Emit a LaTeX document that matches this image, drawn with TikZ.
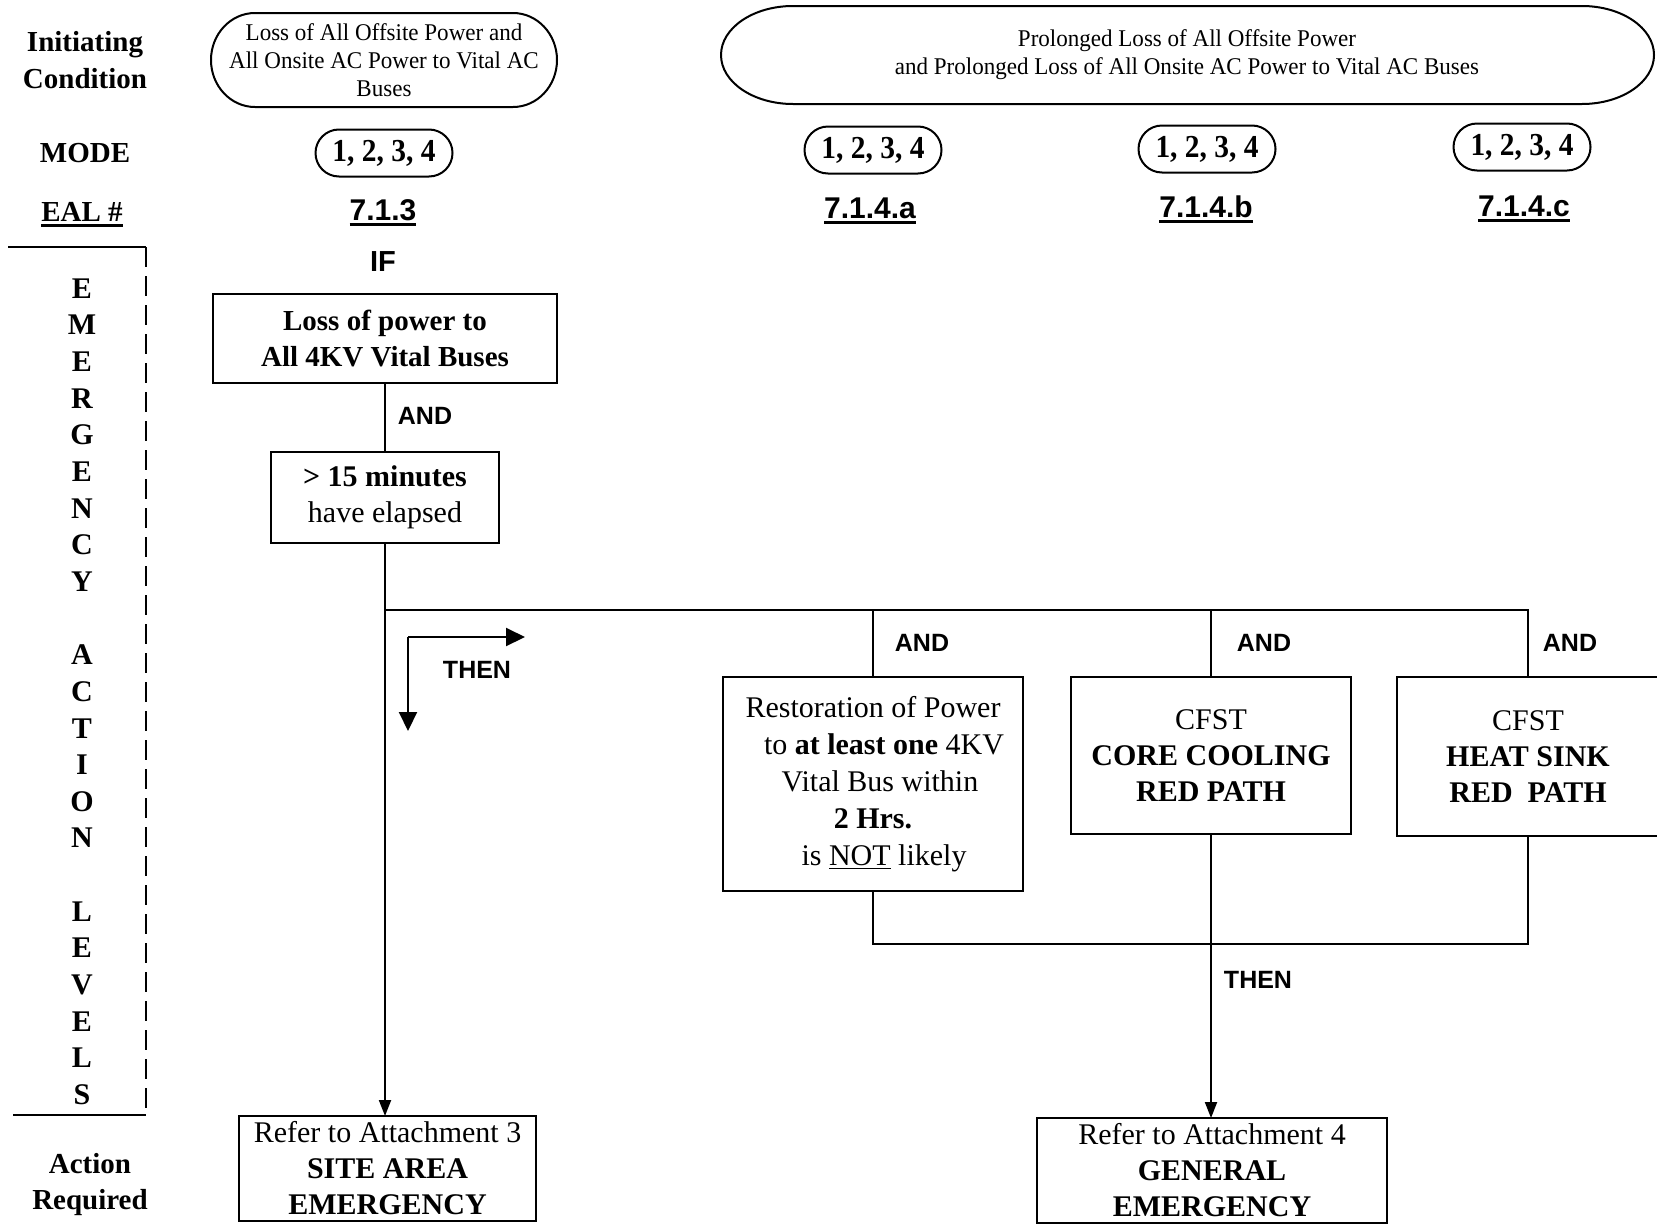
\documentclass[tikz,border=0pt]{standalone}
\usepackage{fontspec}
\setmainfont{Liberation Serif}
\setsansfont{Liberation Sans}
\newfontfamily\narrowserif[FakeStretch=0.96]{Liberation Serif}
\newfontfamily\modefont[FakeStretch=0.92]{Liberation Serif}
\usetikzlibrary{arrows.meta}

% heavy underline used for the EAL numbers
\newcommand\thickul[1]{\setbox0=\hbox{#1}\rlap{\copy0}\rule[-3pt]{\wd0}{1.3pt}}

\begin{document}
\begin{tikzpicture}[x=0.5pt, y=-0.5pt, line width=1pt,
  every node/.style={inner sep=0pt, outer sep=0pt},
  box/.style={draw, line width=1pt, align=center, font=\fontsize{15}{18}\selectfont},
  pill/.style={draw, line width=1pt, minimum width=68.5pt, minimum height=23.5pt,
    rounded corners=11.75pt, font=\modefont\bfseries\fontsize{16}{18}\selectfont},
  title/.style={align=center, font=\narrowserif\fontsize{12}{14}\selectfont},
  hdr/.style={align=center, font=\bfseries\fontsize{14.5}{18.2}\selectfont},
  eal/.style={anchor=base, font=\sffamily\bfseries\fontsize{15}{18}\selectfont},
  gate/.style={font=\sffamily\bfseries\fontsize{12.5}{15}\selectfont},
  letter/.style={font=\bfseries\fontsize{15}{18}\selectfont},
  tip/.style={-{Triangle[length=8pt,width=6pt]}},
  bigtip/.style={-{Triangle[length=9.5pt,width=9pt]}}]

\useasboundingbox (0,0) rectangle (1657,1231);
\fill[white] (0,0) rectangle (1657,1231);

% ---- row headings -------------------------------------------------
\node[hdr] (h-init) at (85,60) {Initiating\\Condition};
\node[hdr] (h-mode) at (85,153) {MODE};
\node[hdr, anchor=base] (h-eal) at (82,221) {\thickul{EAL \#}};
\node[hdr] (h-action) at (90,1184.5) {Action\\Required};

% ---- EMERGENCY ACTION LEVELS, written down the left margin ----------
\foreach \ch/\k in {E/0,M/1,E/2,R/3,G/4,E/5,N/6,C/7,Y/8,
                    A/10,C/11,T/12,I/13,O/14,N/15,
                    L/17,E/18,V/19,E/20,L/21,S/22}
  \node[letter] (lv-\k) at (82,{288.5+36.64*\k}) {\ch};
\draw (8,247) -- (146,247);
\draw[dash pattern=on 10pt off 4.5pt] (146,247) -- (146,1115);
\draw (13,1115) -- (146,1115);

% ---- initiating conditions ----------------------------------------
\node[title] (ic1) at (384,60)
  {Loss of All Offsite Power and\\All Onsite AC Power to Vital AC\\Buses};
\draw (255,13) -- (513,13)
  arc[start angle=90, end angle=-90, x radius=22pt, y radius=23.5pt]
  -- (255,107)
  arc[start angle=270, end angle=90, x radius=22pt, y radius=23.5pt] -- cycle;

\node[title] (ic2) at (1187,55)
  {Prolonged Loss of All Offsite Power\\and Prolonged Loss of All Onsite AC Power to Vital AC Buses};
\draw (793,6) -- (1582,6)
  arc[start angle=90, end angle=-90, x radius=36pt, y radius=24.5pt]
  -- (793,104)
  arc[start angle=270, end angle=90, x radius=36pt, y radius=24.5pt] -- cycle;

% ---- modes and EAL numbers -----------------------------------------
\node[pill] (m1) at (384,153) {1, 2, 3, 4};
\node[pill] (m2) at (873,150) {1, 2, 3, 4};
\node[pill] (m3) at (1207,149) {1, 2, 3, 4};
\node[pill] (m4) at (1522,147) {1, 2, 3, 4};

\node[eal] (e1) at (383,220) {\thickul{7.1.3}};
\node[eal] (e2) at (870,218) {\thickul{7.1.4.a}};
\node[eal] (e3) at (1206,217) {\thickul{7.1.4.b}};
\node[eal] (e4) at (1524,216) {\thickul{7.1.4.c}};

% ---- site area emergency branch -----------------------------------
\node[gate, font=\sffamily\bfseries\fontsize{14.5}{16}\selectfont] (if) at (383,262) {IF};
\node[box, minimum width=172pt, minimum height=44.5pt,
      font=\bfseries\fontsize{14.5}{18}\selectfont] (loss) at (385,338.5)
  {Loss of power to\\All 4KV Vital Buses};
\node[box, minimum width=114pt, minimum height=45.5pt] (elapsed) at (385,497.5)
  {\textbf{> 15 minutes}\\have elapsed};
\node[box, minimum width=148.5pt, minimum height=52.5pt] (site) at (387.5,1168.5)
  {Refer to Attachment 3\\\textbf{SITE AREA}\\\textbf{EMERGENCY}};

\draw (loss) -- (elapsed);
\node[gate] (and0) at (425,416) {AND};
\draw[tip] (elapsed.south) -- (elapsed.south |- site.north);

% THEN marker
\coordinate (tc) at (408,637);
\draw[bigtip] (tc) -- ++(117,0);
\draw[bigtip] (tc) -- ++(0,94);
\node[gate] (then1) at (477,670) {THEN};

% ---- general emergency branch -------------------------------------
\coordinate (split) at (385,610);
\node[box, minimum width=150pt, minimum height=107pt,
      font=\fontsize{15}{18.5}\selectfont] (restore) at (873,784)
  {Restoration of Power\\\hspace*{11pt}to \textbf{at least one} 4KV\\\hspace*{7pt}Vital Bus within\\\textbf{2 Hrs.}\\\hspace*{11pt}is \underline{NOT} likely};
\node[box, minimum width=140pt, minimum height=78.5pt] (core) at (1211,755.5)
  {CFST\\\textbf{CORE COOLING}\\\textbf{RED PATH}};
\node[box, minimum width=131pt, minimum height=79.5pt] (heat) at (1528,756.5)
  {CFST\\\textbf{HEAT SINK}\\\textbf{RED\ \ PATH}};
\node[box, minimum width=175pt, minimum height=52.5pt] (general) at (1212,1170.5)
  {Refer to Attachment 4\\\textbf{GENERAL}\\\textbf{EMERGENCY}};

\draw (split) -| (heat.north);
\draw (split -| restore.north) -- (restore.north);
\draw (split -| core.north) -- (core.north);
\node[gate] (and1) at (922,643) {AND};
\node[gate] (and2) at (1264,643) {AND};
\node[gate] (and3) at (1570,643) {AND};

\coordinate (merge) at (1211,944);
\draw (restore.south) |- (merge -| heat.south) -- (heat.south);
\draw[tip] (core.south) -- (core.south |- general.north);
\node[gate] (then2) at (1258,980) {THEN};

\end{tikzpicture}
\end{document}
